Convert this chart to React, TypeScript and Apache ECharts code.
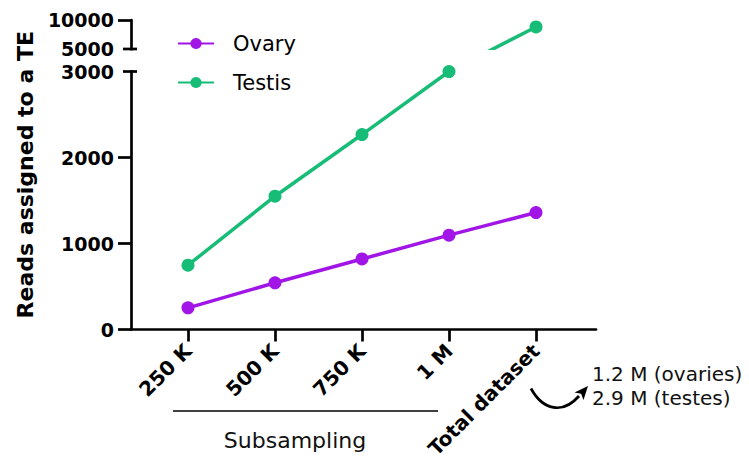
import React, { useEffect, useRef } from "react";
import * as echarts from "echarts";

const categories = ["250 K", "500 K", "750 K", "1 M", "Total dataset"];
const ovaryValues = [252, 543, 820, 1097, 1360];
const testisValues = [748, 1550, 2267, 3000, 8800];
const lowerTicks = [0, 1000, 2000, 3000];
const upperTicks = [5000, 10000];
const seriesNames = ["Ovary", "Testis"];
const yTitle = "Reads assigned to a TE";
const groupLabel = "Subsampling";
const totalsNote = ["1.2 M (ovaries)", "2.9 M (testes)"];

const PURPLE = "#A115E6";
const GREEN = "#17BD77";
const BOLD_FONT = "DejaVu Sans";
const PLAIN_FONT = "DejaVu Sans";

// broken y axis: [0, 3000] linear, gap, [5000, 10000] compressed
const BREAK_LOW = 3000;
const BREAK_HIGH = 5000;
const TOP = 10000;
const GAP_UNITS = 262;
const UPPER_UNITS = 337;
const toDisplay = (v: number) =>
  v <= BREAK_LOW ? v : BREAK_LOW + GAP_UNITS + ((v - BREAK_HIGH) * UPPER_UNITS) / (TOP - BREAK_HIGH);

const xPositions = categories.map((_, i) => i + 1);

export default function App() {
  const ref = useRef<HTMLDivElement>(null);
  useEffect(() => {
    if (!ref.current) return;
    const chart = echarts.init(ref.current, undefined, { renderer: "svg" });
    const yLabelValues = [...lowerTicks, ...upperTicks];
    const option: any = {
      animation: false,
      backgroundColor: "#fff",
      grid: { left: 131, right: 153, top: 20, bottom: 134.5, containLabel: false },
      xAxis: {
        type: "value",
        min: 1 - 57 / 87,
        max: 5 + 60 / 87,
        splitLine: { show: false },
        axisLine: { show: true, lineStyle: { color: "#000", width: 2.7 } },
        axisTick: { show: true, customValues: xPositions, length: 12, lineStyle: { color: "#000", width: 2.7 } },
        axisLabel: {
          customValues: xPositions,
          formatter: (v: number) => categories[Math.round(v) - 1] ?? "",
          rotate: 45,
          margin: 18,
          color: "#000",
          fontFamily: BOLD_FONT,
          fontWeight: "bold",
          fontSize: 20,
        },
      },
      yAxis: {
        type: "value",
        min: 0,
        max: toDisplay(TOP),
        splitLine: { show: false },
        axisLine: { show: true, lineStyle: { color: "#000", width: 2.7 } },
        axisTick: {
          show: true,
          customValues: [0, 1000, 2000, 10000].map(toDisplay),
          length: 13,
          lineStyle: { color: "#000", width: 2.7 },
        },
        axisLabel: {
          customValues: yLabelValues.map(toDisplay),
          formatter: (v: number) => {
            const raw = yLabelValues.find((t) => Math.abs(toDisplay(t) - v) < 0.5);
            return raw === undefined ? "" : String(raw);
          },
          margin: 17,
          color: "#000",
          fontFamily: BOLD_FONT,
          fontWeight: "bold",
          fontSize: 19,
        },
        name: yTitle,
        nameLocation: "middle",
        nameGap: 92,
        nameTextStyle: { color: "#000", fontFamily: BOLD_FONT, fontWeight: "bold", fontSize: 22 },
      },
      legend: {
        data: seriesNames,
        orient: "vertical",
        left: 172,
        top: 28,
        itemWidth: 36,
        itemHeight: 14,
        itemGap: 18,
        textStyle: { color: "#000", fontFamily: PLAIN_FONT, fontSize: 21, padding: [0, 0, 0, 14] },
      },
      visualMap: {
        type: "piecewise",
        show: false,
        seriesIndex: 1,
        dimension: 1,
        pieces: [
          { lte: BREAK_LOW, color: GREEN },
          { gt: BREAK_LOW, lt: toDisplay(BREAK_HIGH) - 10, color: "rgba(255,255,255,0)" },
          { gte: toDisplay(BREAK_HIGH) - 10, color: GREEN },
        ],
      },
      series: [
        {
          name: seriesNames[0],
          type: "line",
          data: ovaryValues.map((v, i) => [xPositions[i], toDisplay(v)]),
          symbol: "circle",
          symbolSize: 13,
          itemStyle: { color: PURPLE },
          lineStyle: { color: PURPLE, width: 3.5 },
          z: 3,
        },
        {
          name: seriesNames[1],
          type: "line",
          data: testisValues.map((v, i) => [xPositions[i], toDisplay(v)]),
          symbol: "circle",
          symbolSize: 13,
          itemStyle: { color: GREEN },
          lineStyle: { width: 3.5 },
          z: 3,
        },
      ],
    };
    chart.setOption(option);

    const px = (x: number, y: number) => chart.convertToPixel({ gridIndex: 0 }, [x, y]) as number[];
    const axisX = px(1 - 57 / 87, 0)[0];
    const y5000 = px(1, toDisplay(BREAK_HIGH))[1];
    const y3000 = px(1, toDisplay(BREAK_LOW))[1];
    const x1 = px(1, 0)[0];
    const x4 = px(4, 0)[0];
    const x5 = px(5, 0)[0];
    const baseY = px(1, 0)[1];

    const capStyle = { stroke: "#000", lineWidth: 2.7 };
    const graphic: any[] = [
      {
        type: "rect",
        z: 10,
        shape: { x: axisX - 4, y: y5000 + 1.4, width: 8, height: y3000 - y5000 - 2.8 },
        style: { fill: "#fff" },
      },
      { type: "line", z: 11, shape: { x1: axisX - 8, y1: y5000, x2: axisX + 6, y2: y5000 }, style: capStyle },
      { type: "line", z: 11, shape: { x1: axisX - 8, y1: y3000, x2: axisX + 6, y2: y3000 }, style: capStyle },
      {
        type: "line",
        z: 11,
        shape: { x1: x1 - 15, y1: baseY + 81.5, x2: x4 - 11, y2: baseY + 81.5 },
        style: { stroke: "#000", lineWidth: 1.5 },
      },
      {
        type: "text",
        z: 11,
        style: {
          text: groupLabel,
          x: 295,
          y: baseY + 111,
          align: "center",
          verticalAlign: "middle",
          fontFamily: PLAIN_FONT,
          fontSize: 22,
          fill: "#111",
        },
      },
      {
        type: "text",
        z: 11,
        style: {
          text: totalsNote[0],
          x: x5 + 56,
          y: baseY + 44,
          align: "left",
          verticalAlign: "middle",
          fontFamily: PLAIN_FONT,
          fontSize: 20,
          fill: "#111",
        },
      },
      {
        type: "text",
        z: 11,
        style: {
          text: totalsNote[1],
          x: x5 + 56,
          y: baseY + 68,
          align: "left",
          verticalAlign: "middle",
          fontFamily: PLAIN_FONT,
          fontSize: 20,
          fill: "#111",
        },
      },
      {
        type: "bezierCurve",
        z: 11,
        shape: {
          x1: x5 - 5,
          y1: baseY + 59,
          cpx1: x5 + 7,
          cpy1: baseY + 81,
          cpx2: x5 + 27,
          cpy2: baseY + 85,
          x2: x5 + 43,
          y2: baseY + 66.5,
        },
        style: { stroke: "#000", lineWidth: 2.7, fill: null },
      },
      {
        type: "polygon",
        z: 11,
        shape: {
          points: [
            [x5 + 52, baseY + 56.5],
            [x5 + 47.5, baseY + 70.5],
            [x5 + 45.1, baseY + 64.2],
            [x5 + 38.5, baseY + 63],
          ],
        },
        style: { fill: "#000" },
      },
    ];
    chart.setOption({ graphic });

    return () => chart.dispose();
  }, []);
  return <div ref={ref} style={{ position: "fixed", left: 0, top: 0, width: 749, height: 464 }} />;
}
